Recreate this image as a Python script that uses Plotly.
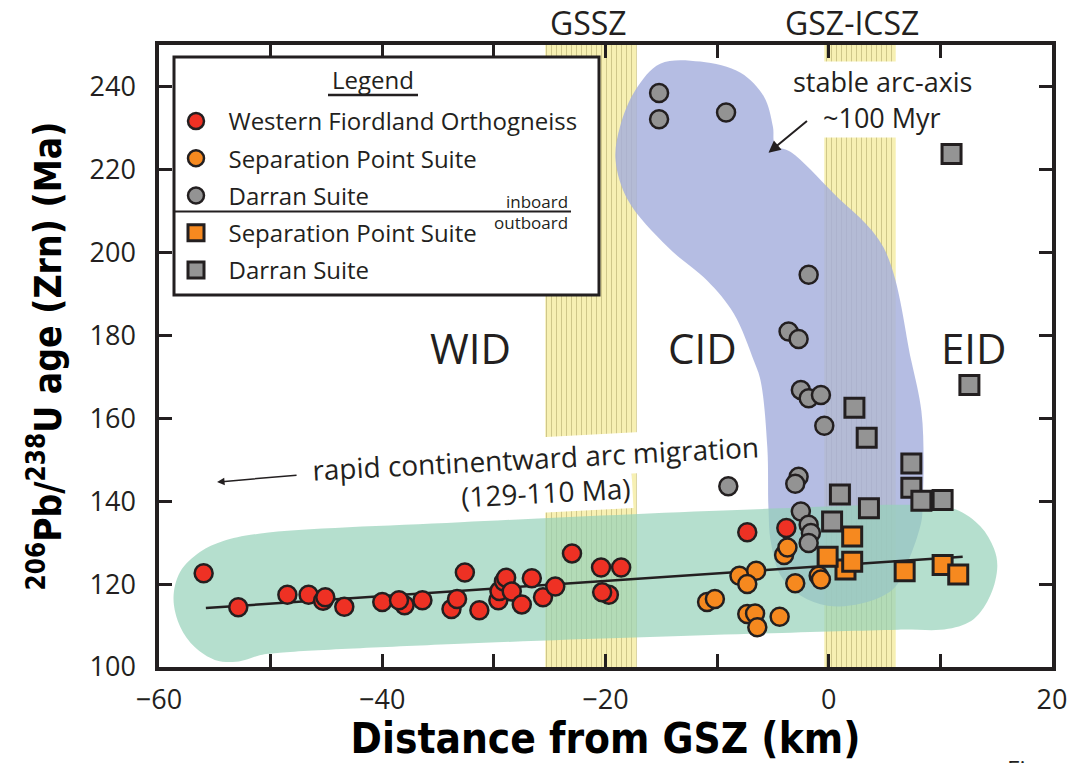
import plotly.graph_objects as go

# ---------------- data ----------------
wfo_x = [-56.0, -52.9, -48.5, -46.6, -45.3, -45.1, -43.4, -40.0, -38.0, -38.5, -36.4,
         -33.8, -33.3, -32.6, -31.3, -29.6, -29.5, -29.1, -28.9, -28.4, -27.5, -26.6,
         -25.6, -24.5, -23.0, -20.4, -18.6, -19.7, -20.3, -7.3, -3.8]
wfo_y = [122.6, 114.4, 117.4, 117.4, 116.0, 116.8, 114.5, 115.7, 114.9, 116.1, 116.1,
         114.0, 116.4, 122.8, 113.7, 116.1, 118.3, 120.6, 121.5, 118.2, 115.1, 121.4,
         116.8, 119.4, 127.4, 124.0, 124.0, 117.4, 118.0, 132.5, 133.5]

sps_circ_x = [-4.0, -3.7, -8.0, -6.5, -7.3, -10.9, -10.2, -7.3, -6.6, -6.4, -4.4, -3.0, -0.9, -0.7]
sps_circ_y = [127.0, 128.8, 122.0, 123.2, 120.0, 115.7, 116.4, 112.8, 112.9, 109.6, 112.1, 120.2, 122.0, 121.1]

dar_circ_x = [-15.2, -15.2, -9.2, -1.8, -3.6, -2.7, -2.5, -1.8, -0.7, -0.4, -9.0,
              -2.7, -3.0, -2.5, -1.8, -1.6, -1.8]
dar_circ_y = [238.4, 232.1, 233.7, 194.6, 180.9, 179.1, 166.8, 164.8, 165.6, 158.2, 143.6,
              145.9, 144.2, 137.5, 134.3, 132.3, 129.9]

sps_sq_x = [1.5, -0.1, 2.1, 2.1, 6.8, 10.2, 11.6]
sps_sq_y = [123.5, 126.6, 131.5, 125.4, 123.1, 124.6, 122.3]

dar_sq_x = [11.0, 12.6, 2.3, 3.4, 7.4, 7.4, 8.3, 10.2, 1.0, 3.6, 0.3]
dar_sq_y = [223.7, 168.0, 162.5, 155.3, 149.1, 143.2, 140.1, 140.3, 141.6, 138.3, 135.1]

# regression line through WFO + SPS ages
fit_x = [-55.8, 12.0]
fit_y = [114.2, 126.6]

# shear-zone bands (km)
band_names = ["GSSZ", "GSZ-ICSZ"]
band_left = [-25.4, -0.4]
band_right = [-17.2, 6.0]

# outline of "rapid continentward arc migration" field (green)
green_x = [-58.7, -58.1, -56.3, -54.3, -50.9, -33.0, -7.0, 8.3, 11.4, 13.6, 14.8, 15.1,
           14.5, 13.0, 10.7, 6.2, -7.0, -33.0, -49.4, -50.9, -52.3, -53.4, -55.0, -56.8,
           -58.1, -58.7]
green_y = [116.5, 123.0, 127.8, 130.3, 132.2, 134.9, 138.0, 139.0, 138.0, 133.9, 128.6, 124.2,
           117.4, 111.6, 109.2, 109.0, 108.0, 105.6, 103.4, 102.9, 101.7, 101.2, 101.7, 104.8,
           109.7, 116.5]

# outline of "stable arc-axis" field (blue)
blue_x = [-19.1, -18.7, -17.3, -15.1, -11.5, -7.9, -5.8, -5.0, -4.8, -3.4, 0.4, 4.9, 7.4,
          8.3, 8.5, 8.4, 8.3, 7.1, 5.8, 2.9, -0.1, -2.5, -4.3, -5.2, -5.4, -5.5, -6.1, -6.7,
          -8.5, -10.9, -14.4, -18.0, -19.1]
blue_y = [222.3, 230.3, 239.2, 245.5, 246.0, 243.3, 237.5, 230.3, 225.9, 224.2, 214.3, 201.2,
          173.8, 161.7, 149.6, 139.2, 135.1, 125.4, 118.9, 115.3, 114.8, 117.2, 122.0, 130.3,
          138.3, 152.8, 169.0, 173.8, 185.2, 193.2, 201.2, 212.6, 222.3]

x_range = [-60, 20]
y_range = [100, 250]

# ---------------- figure ----------------
W, H = 1071, 763
ML, MR, MT, MB = 159, 19, 45, 96
PW, PH = W - ML - MR, H - MT - MB

def px(x):
    return (x - ML) / PW

def py(y):
    return (H - MB - y) / PH

INK = "#231f20"
FONT = "Open Sans"
BOLD = "Liberation Sans Narrow, DejaVu Sans Condensed, Arial Narrow, Open Sans, sans-serif"

fig = go.Figure()

# yellow shear-zone bands with a striped texture
fig.add_trace(go.Bar(
    x=[(l + r) / 2 for l, r in zip(band_left, band_right)],
    y=[y_range[1] - y_range[0]] * len(band_left),
    base=[y_range[0]] * len(band_left),
    width=[r - l for l, r in zip(band_left, band_right)],
    marker=dict(color="#f7f0b3", line_width=0,
                pattern=dict(shape="|", fillmode="overlay", fgcolor="#9c9358",
                             fgopacity=0.45, size=5, solidity=0.2)),
    showlegend=False, hoverinfo="skip", name="bands"))

fig.add_trace(go.Scatter(x=blue_x, y=blue_y, mode="lines", fill="toself",
                         fillcolor="rgba(165,175,221,0.82)",
                         line=dict(width=0, shape="spline", smoothing=1.0),
                         showlegend=False, hoverinfo="skip"))
fig.add_trace(go.Scatter(x=green_x, y=green_y, mode="lines", fill="toself",
                         fillcolor="rgba(150,210,185,0.7)",
                         line=dict(width=0, shape="spline", smoothing=1.0),
                         showlegend=False, hoverinfo="skip"))

fig.add_trace(go.Scatter(x=fit_x, y=fit_y, mode="lines",
                         line=dict(color=INK, width=2.5), showlegend=False, hoverinfo="skip"))

NB = "\u00a0\u00a0"
circ_line = dict(color=INK, width=2.5)
sq_line = dict(color=INK, width=3)
fig.add_trace(go.Scatter(x=wfo_x, y=wfo_y, mode="markers", name=NB + "Western Fiordland Orthogneiss",
                         legendgroup="a",
                         marker=dict(symbol="circle", size=18, color="#ee3124", line=circ_line)))
fig.add_trace(go.Scatter(x=sps_circ_x, y=sps_circ_y, mode="markers", name=NB + "Separation Point Suite",
                         legendgroup="b",
                         marker=dict(symbol="circle", size=18, color="#f6891f", line=circ_line)))
fig.add_trace(go.Scatter(x=dar_circ_x, y=dar_circ_y, mode="markers", name=NB + "Darran Suite",
                         legendgroup="c",
                         marker=dict(symbol="circle", size=18, color="#939393", line=circ_line)))
fig.add_trace(go.Scatter(x=sps_sq_x, y=sps_sq_y, mode="markers", name=NB + "Separation Point Suite",
                         legendgroup="d",
                         marker=dict(symbol="square", size=19, color="#f6891f", line=sq_line)))
fig.add_trace(go.Scatter(x=dar_sq_x, y=dar_sq_y, mode="markers", name=NB + "Darran Suite",
                         legendgroup="e",
                         marker=dict(symbol="square", size=19, color="#949494", line=sq_line)))

# legend box, underline and divider drawn as shapes
shapes = [
    dict(type="rect", xref="paper", yref="paper", x0=px(174), x1=px(599), y0=py(295), y1=py(57),
         fillcolor="white", line=dict(color=INK, width=3), layer="above"),
    dict(type="line", xref="paper", yref="paper", x0=px(328), x1=px(418), y0=py(95), y1=py(95),
         line=dict(color=INK, width=2.5), layer="above"),
    dict(type="line", xref="paper", yref="paper", x0=px(174), x1=px(571), y0=py(211.5), y1=py(211.5),
         line=dict(color=INK, width=2), layer="above"),
]

def paper_text(text, x, y, size, **kw):
    d = dict(text=text, xref="paper", yref="paper", x=px(x), y=py(y), showarrow=False,
             xanchor="center", yanchor="middle", font=dict(family=FONT, size=size, color=INK))
    d.update(kw)
    return d

annotations = [
    paper_text("Legend", 373, 79, 24),
    paper_text("inboard", 537, 201, 17),
    paper_text("outboard", 531, 222, 17),
]
for name, l, r, dx in zip(band_names, band_left, band_right, [-0.2, -0.7]):
    annotations.append(dict(text=name, x=(l + r) / 2 + dx, xref="x", y=py(22), yref="paper",
                            xanchor="center", yanchor="middle", borderpad=0,
                            showarrow=False, font=dict(family=FONT, size=32, color=INK)))
for name, xc in zip(["WID", "CID", "EID"], [-32.1, -11.3, 13.0]):
    annotations.append(dict(text=name, x=xc, y=177, showarrow=False,
                            font=dict(family=FONT, size=42, color=INK)))
annotations += [
    dict(text="stable arc-axis", x=4.8, y=241.3, showarrow=False, bgcolor="white",
         font=dict(family=FONT, size=27, color=INK)),
    dict(text="~100 Myr", x=4.8, y=232.4, showarrow=False, bgcolor="white",
         font=dict(family=FONT, size=27, color=INK)),
    dict(text="", x=-5.4, y=224.0, ax=40, ay=-33, showarrow=True, arrowhead=2, arrowsize=1.2,
         arrowwidth=2, arrowcolor=INK),
    dict(text="rapid continentward arc migration", x=-26.3, y=150.4, showarrow=False,
         textangle=-3, bgcolor="white", font=dict(family=FONT, size=28, color=INK)),
    dict(text="(129-110 Ma)", x=-25.3, y=142.3, showarrow=False, textangle=-3,
         bgcolor="white", font=dict(family=FONT, size=28, color=INK)),
    dict(text="", x=-54.8, y=144.6, ax=81, ay=-7, showarrow=True, arrowhead=2, arrowsize=1,
         arrowwidth=1.5, arrowcolor=INK),
    paper_text("Figure", 1005, 750, 24, xanchor="left", yanchor="top"),
]

axis_common = dict(showline=True, linewidth=3.5, linecolor=INK, mirror="ticks",
                   ticks="inside", ticklen=13, tickwidth=2.5, tickcolor=INK,
                   showgrid=False, zeroline=False,
                   tickfont=dict(family=FONT, size=27, color=INK))

fig.update_layout(
    width=W, height=H, margin=dict(l=ML, r=MR, t=MT, b=MB, autoexpand=False),
    paper_bgcolor="white", plot_bgcolor="white",
    xaxis=dict(range=x_range, tick0=-60, dtick=20, ticklabelstandoff=6,
               minor=dict(dtick=10, ticks="inside", ticklen=13, tickwidth=2.5, tickcolor=INK),
               title=dict(text="<b>Distance from GSZ (km)</b>", standoff=4,
                          font=dict(family=BOLD, size=42, color="black")),
               **axis_common),
    yaxis=dict(range=y_range, tick0=100, dtick=20, ticklabelstandoff=14,
               title=dict(text="<b><sup>206</sup>Pb/<sup>238</sup>U age (Zrn) (Ma)</b>", standoff=18,
                          font=dict(family=BOLD, size=37, color="black")),
               **axis_common),
    legend=dict(x=px(176), y=py(99), xanchor="left", yanchor="top",
                bgcolor="rgba(0,0,0,0)", borderwidth=0,
                font=dict(family=FONT, size=24, color=INK),
                traceorder="grouped", tracegroupgap=3),
    barmode="overlay",
    shapes=shapes, annotations=annotations,
)

fig.write_html("out.html")
